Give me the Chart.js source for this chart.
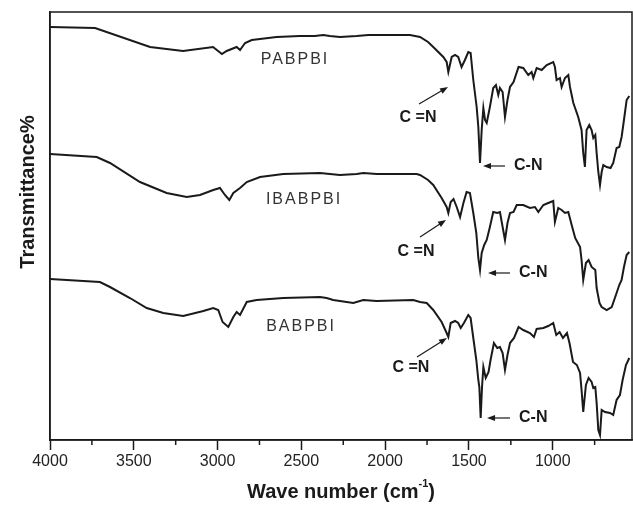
<!DOCTYPE html>
<html>
<head>
<meta charset="utf-8">
<title>FTIR spectra</title>
<script src="https://cdn.jsdelivr.net/npm/chart.js@4.4.1/dist/chart.umd.min.js"></script>
<style>
  html, body { margin: 0; padding: 0; background: #fff; }
  #ftir { display: block; }
</style>
</head>
<body>
<canvas id="ftir" width="633" height="509"></canvas>
<script>
// --- FTIR spectra of PABPBI / IBABPBI / BABPBI ---

// asse x: numero d'onda (cm-1), asse y: trasmittanza (unità arbitrarie, curve sfalsate)
const majorTicks = [4000, 3500, 3000, 2500, 2000, 1500, 1000];
const minorTicks = [3750, 3250, 2750, 2250, 1750, 1250, 750];

const pabpbiWave = [4000,3731,3403,3206,3027,2974,2946,2886,2866,2836,2796,2648,2508,2420,2369,2330,2270,2170,2100,1971,1852,1792,1744,1713,1653,1633,1623,1603,1583,1564,1544,1524,1504,1490,1474,1454,1444,1434,1424,1414,1404,1394,1375,1355,1339,1325,1315,1299,1285,1270,1255,1234,1204,1176,1146,1126,1116,1096,1066,1036,997,987,977,957,947,927,907,897,877,848,828,818,808,798,782,768,758,746,738,728,718,708,698,678,655,639,619,603,589,575,559,543];
const pabpbiT = [413,412,393,389,393,386,389,393,390,397,400,403,404,404,405,404,403,404,405,405,405,403,398,393,383,378,368,383,385,383,373,380,388,387,360,333,313,277,310,332,320,317,333,352,355,345,352,348,323,340,353,358,373,372,365,368,362,372,370,375,378,373,360,362,353,362,365,353,337,323,310,287,273,310,315,310,302,305,287,268,255,268,275,273,272,277,292,293,303,320,340,344];

const ibabpbiWave = [4000,3721,3642,3463,3304,3184,3105,3026,2986,2956,2930,2906,2866,2826,2747,2608,2389,2270,2170,2130,2050,1812,1792,1744,1713,1663,1633,1623,1609,1592,1573,1553,1533,1514,1494,1474,1456,1444,1434,1424,1409,1394,1375,1355,1331,1315,1299,1285,1270,1255,1234,1215,1176,1136,1106,1086,1056,1027,997,987,967,947,927,907,887,866,837,828,818,802,786,768,746,738,721,708,678,648,619,603,589,575,559,543];
const ibabpbiT = [286,283,277,258,247,243,245,250,252,245,240,247,252,258,263,266,267,265,266,267,266,266,265,260,255,242,233,227,238,241,233,223,237,248,247,227,207,182,170,187,195,200,213,228,227,228,213,200,217,227,228,235,235,232,233,228,235,237,239,218,232,230,227,228,215,202,193,180,160,177,180,173,170,152,137,133,130,133,147,155,160,173,185,188];

const babpbiWave = [4000,3702,3642,3523,3423,3324,3205,3085,3026,2996,2970,2936,2906,2886,2866,2826,2767,2608,2389,2349,2310,2190,2131,2051,1832,1792,1752,1713,1663,1633,1623,1609,1583,1564,1549,1530,1504,1490,1474,1456,1444,1438,1430,1422,1414,1400,1383,1371,1351,1331,1315,1299,1285,1270,1255,1231,1204,1176,1136,1112,1096,1056,1027,997,979,959,939,915,900,879,856,837,828,818,802,786,768,758,746,738,728,718,708,688,658,639,619,599,583,563,543];
const babpbiT = [161,158,153,142,132,127,124,129,132,130,118,113,123,128,125,138,140,142,143,142,140,137,140,139,140,138,137,130,118,107,103,117,119,117,112,117,125,122,102,80,60,53,22,53,73,62,68,80,97,92,93,87,70,85,97,102,113,110,107,103,111,112,114,117,105,108,102,107,97,78,75,67,50,28,55,62,58,52,53,37,10,5,30,28,27,25,40,45,60,75,82];

// etichette delle curve (posizione in coordinate dati)
const seriesNames = ['PABPBI', 'IBABPBI', 'BABPBI'];
const nameWave = [2538, 2484, 2502];
const nameT = [380, 240, 113];

// frecce C=N: testo, coda, punta
const cnDoubleTextWave = [1804, 1816, 1846];
const cnDoubleTextT = [322, 188, 72];
const cnDoubleFromWave = [1798, 1792, 1810];
const cnDoubleFromT = [336, 203, 83];
const cnDoubleToWave = [1625, 1637, 1631];
const cnDoubleToT = [353, 220, 102];

// frecce C-N
const cnSingleFromWave = [1285, 1255, 1255];
const cnSingleToWave = [1416, 1386, 1392];
const cnSingleT = [274, 167, 22];
const cnSingleTextWave = [1243, 1213, 1213];

const INK = '#1a1a1a';

function toPoints(wave, t) {
    return wave.map((w, i) => ({ x: w, y: t[i] }));
}

function drawArrow(ctx, x1, y1, x2, y2) {
    const ang = Math.atan2(y2 - y1, x2 - x1);
    const head = 8;
    ctx.beginPath();
    ctx.moveTo(x1, y1);
    ctx.lineTo(x2 - Math.cos(ang) * head * 0.8, y2 - Math.sin(ang) * head * 0.8);
    ctx.stroke();
    ctx.beginPath();
    ctx.moveTo(x2, y2);
    ctx.lineTo(x2 - head * Math.cos(ang) + 3 * Math.sin(ang), y2 - head * Math.sin(ang) - 3 * Math.cos(ang));
    ctx.lineTo(x2 - head * Math.cos(ang) - 3 * Math.sin(ang), y2 - head * Math.sin(ang) + 3 * Math.cos(ang));
    ctx.closePath();
    ctx.fill();
}

// plugin: cornice, tacche minori, titoli e annotazioni
const decorPlugin = {
    id: 'decor',
    afterDraw(chart) {
        const { ctx, chartArea: a, scales: { x, y } } = chart;
        ctx.save();
        ctx.strokeStyle = INK;
        ctx.fillStyle = INK;
        ctx.lineWidth = 1.5;
        ctx.strokeRect(a.left, a.top, a.right - a.left, a.bottom - a.top);

        // tacche minori
        minorTicks.forEach(v => {
            const px = x.getPixelForValue(v);
            ctx.beginPath();
            ctx.moveTo(px, a.bottom);
            ctx.lineTo(px, a.bottom + 5);
            ctx.stroke();
        });

        // nomi delle curve
        ctx.font = '16px "Liberation Sans", Arial, sans-serif';
        ctx.letterSpacing = '2px';
        ctx.fillStyle = '#333';
        ctx.textAlign = 'center';
        ctx.textBaseline = 'middle';
        seriesNames.forEach((name, i) => {
            ctx.fillText(name, x.getPixelForValue(nameWave[i]), y.getPixelForValue(nameT[i]));
        });
        ctx.letterSpacing = '0px';

        // C=N
        ctx.fillStyle = INK;
        ctx.font = 'bold 16px "Liberation Sans", Arial, sans-serif';
        ctx.lineWidth = 1.2;
        cnDoubleTextWave.forEach((w, i) => {
            ctx.fillText('C =N', x.getPixelForValue(w), y.getPixelForValue(cnDoubleTextT[i]));
            drawArrow(ctx,
                x.getPixelForValue(cnDoubleFromWave[i]), y.getPixelForValue(cnDoubleFromT[i]),
                x.getPixelForValue(cnDoubleToWave[i]), y.getPixelForValue(cnDoubleToT[i]));
        });

        // C-N
        ctx.textAlign = 'left';
        cnSingleT.forEach((t, i) => {
            const py = y.getPixelForValue(t);
            drawArrow(ctx, x.getPixelForValue(cnSingleFromWave[i]), py, x.getPixelForValue(cnSingleToWave[i]), py);
            ctx.fillText('C-N', x.getPixelForValue(cnSingleTextWave[i]) + 2, py);
        });

        // titolo asse x con apice
        ctx.font = 'bold 20px "Liberation Sans", Arial, sans-serif';
        ctx.textBaseline = 'alphabetic';
        const main = 'Wave number (cm';
        const sup = '-1';
        const tail = ')';
        const wMain = ctx.measureText(main).width;
        const wTail = ctx.measureText(tail).width;
        ctx.font = 'bold 11px "Liberation Sans", Arial, sans-serif';
        const wSup = ctx.measureText(sup).width;
        const startX = (a.left + a.right) / 2 - (wMain + wSup + wTail) / 2;
        const baseY = 498;
        ctx.font = 'bold 20px "Liberation Sans", Arial, sans-serif';
        ctx.fillText(main, startX, baseY);
        ctx.font = 'bold 11px "Liberation Sans", Arial, sans-serif';
        ctx.fillText(sup, startX + wMain, baseY - 11);
        ctx.font = 'bold 20px "Liberation Sans", Arial, sans-serif';
        ctx.fillText(tail, startX + wMain + wSup, baseY);

        // titolo asse y
        ctx.translate(34, (a.top + a.bottom) / 2 - 34);
        ctx.rotate(-Math.PI / 2);
        ctx.textAlign = 'center';
        ctx.font = 'bold 20px "Liberation Sans", Arial, sans-serif';
        ctx.fillText('Transmittance%', 0, 0);
        ctx.restore();
    }
};

function lineDataset(label, wave, t) {
    return {
        label: label,
        data: toPoints(wave, t),
        borderColor: INK,
        borderWidth: 2,
        pointRadius: 0,
        tension: 0,
        fill: false
    };
}

new Chart(document.getElementById('ftir').getContext('2d'), {
    type: 'line',
    data: {
        datasets: [
            lineDataset('PABPBI', pabpbiWave, pabpbiT),
            lineDataset('IBABPBI', ibabpbiWave, ibabpbiT),
            lineDataset('BABPBI', babpbiWave, babpbiT)
        ]
    },
    options: {
        responsive: false,
        animation: false,
        devicePixelRatio: 1,
        layout: { padding: { top: 12, right: 1, left: 0, bottom: 0 } },
        plugins: { legend: { display: false }, tooltip: { enabled: false } },
        scales: {
            x: {
                type: 'linear',
                reverse: true,
                min: 527,
                max: 4000,
                afterBuildTicks: (scale) => { scale.ticks = majorTicks.map(v => ({ value: v })); },
                afterFit: (scale) => { scale.height = 69; },
                grid: { drawOnChartArea: false, drawTicks: true, tickLength: 10, tickColor: INK, tickWidth: 1.5 },
                border: { display: true, color: INK, width: 1.5 },
                ticks: {
                    color: '#222',
                    padding: 2,
                    maxRotation: 0,
                    autoSkip: false,
                    font: { family: '"Liberation Sans", Arial, sans-serif', size: 16 },
                    callback: (v) => String(v)
                }
            },
            y: {
                min: 0,
                max: 428,
                afterFit: (scale) => { scale.width = 50; },
                grid: { display: false },
                border: { display: true, color: INK, width: 1.5 },
                ticks: { display: false }
            }
        }
    },
    plugins: [decorPlugin]
});
</script>
</body>
</html>
